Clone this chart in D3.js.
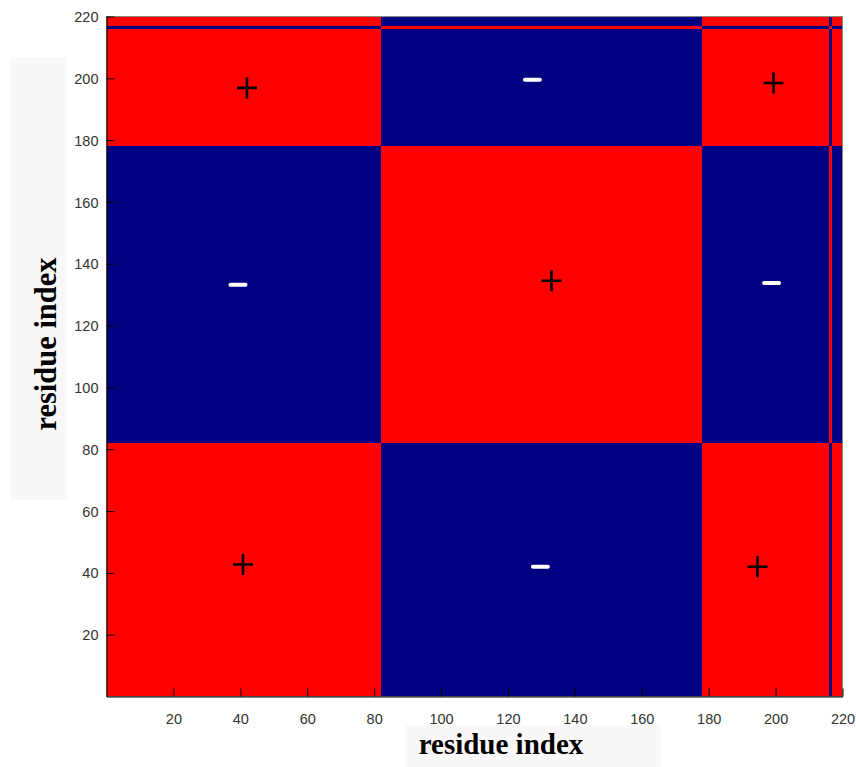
<!DOCTYPE html>
<html>
<head>
<meta charset="utf-8">
<script src="https://cdn.jsdelivr.net/npm/d3@7"></script>
<style>
  body { margin: 0; background: #fff; }
  svg { display: block; }
</style>
</head>
<body>
<div id="chart"></div>
<script>
let width = 856
let height = 767

// residue segments and the sign of each one
let segStart = [1, 83, 179, 217, 218]
let segEnd = [82, 178, 216, 217, 220]
let segSign = [1, -1, 1, -1, 1]

let xTicks = [20, 40, 60, 80, 100, 120, 140, 160, 180, 200, 220]
let yTicks = [20, 40, 60, 80, 100, 120, 140, 160, 180, 200, 220]

// sign markers placed on the blocks
let markX = [42, 127.3, 199.4, 39.3, 133, 198.8, 40.8, 129.7, 194.6]
let markY = [196.9, 199.5, 198.5, 133.2, 134.5, 133.8, 42.7, 42, 42]
let markSign = [1, -1, 1, -1, 1, -1, 1, -1, 1]

let x = d3.scaleLinear().domain([0, 220]).range([106.5, 842.5])
let y = d3.scaleLinear().domain([0, 220]).range([696.5, 16.5])

let svg = d3.select("#chart")
  .append("svg")
    .attr("width", width)
    .attr("height", height)
    .style("font-family", "'Liberation Sans', Arial, sans-serif")

// label backgrounds
svg.append("rect")
  .attr("x", 10).attr("y", 57).attr("width", 57).attr("height", 443)
  .attr("fill", "#f9f7f8")
svg.append("rect")
  .attr("x", 406).attr("y", 725).attr("width", 255).attr("height", 42)
  .attr("fill", "#f9f7f8")

// blocks of the sign matrix
let cells = []
segStart.forEach(function(cs, i) {
  segStart.forEach(function(rs, j) {
    cells.push({ x0: cs - 1, x1: segEnd[i], y0: rs - 1, y1: segEnd[j], s: segSign[i] * segSign[j] })
  })
})

svg.append("g")
  .selectAll("rect")
  .data(cells)
  .enter()
  .append("rect")
    .attr("x", d => x(d.x0))
    .attr("width", d => x(d.x1) - x(d.x0))
    .attr("y", d => y(d.y1))
    .attr("height", d => y(d.y0) - y(d.y1))
    .attr("fill", d => d.s > 0 ? "#ff0000" : "#000080")
    .attr("shape-rendering", "crispEdges")

// box
svg.append("rect")
  .attr("x", x(0)).attr("y", y(220))
  .attr("width", x(220) - x(0)).attr("height", y(0) - y(220))
  .attr("fill", "none").attr("stroke", "#888").attr("stroke-width", 1)

// axes with inward ticks
let xAxis = svg.append("g")
  .attr("transform", "translate(0," + y(0) + ")")
  .call(d3.axisBottom(x).tickValues(xTicks).tickSizeInner(-8).tickSizeOuter(0).tickPadding(17))
let yAxis = svg.append("g")
  .attr("transform", "translate(" + x(0) + ",0)")
  .call(d3.axisLeft(y).tickValues(yTicks).tickSizeInner(-8).tickSizeOuter(0).tickPadding(8))

;[xAxis, yAxis].forEach(function(a) {
  a.select(".domain").attr("stroke", "#000")
  a.selectAll(".tick line").attr("stroke", "#000")
  a.selectAll("text").attr("fill", "#333").style("font-size", "14.5px")
})
yAxis.selectAll("text").attr("dy", "0.35em")

// markers
let marks = svg.append("g")
  .selectAll("g")
  .data(markX.map((v, i) => ({ x: v, y: markY[i], s: markSign[i] })))
  .enter()
  .append("g")
    .attr("transform", d => "translate(" + x(d.x) + "," + y(d.y) + ")")

marks.filter(d => d.s > 0)
  .append("path")
    .attr("d", "M-10,0H10M0,-10.5V10.5")
    .attr("stroke", "#000")
    .attr("stroke-width", 2.6)
marks.filter(d => d.s < 0)
  .append("line")
    .attr("x1", -7.5).attr("x2", 7.5)
    .attr("stroke", "#fff")
    .attr("stroke-width", 4)
    .attr("stroke-linecap", "round")

// axis titles
svg.append("text")
  .attr("x", 501).attr("y", 754)
  .attr("text-anchor", "middle")
  .style("font-family", "'Liberation Serif', 'Times New Roman', serif")
  .style("font-weight", "bold")
  .style("font-size", "29px")
  .text("residue index")
svg.append("text")
  .attr("transform", "translate(56,344) rotate(-90)")
  .attr("text-anchor", "middle")
  .style("font-family", "'Liberation Serif', 'Times New Roman', serif")
  .style("font-weight", "bold")
  .style("font-size", "30.5px")
  .text("residue index")
</script>
</body>
</html>
